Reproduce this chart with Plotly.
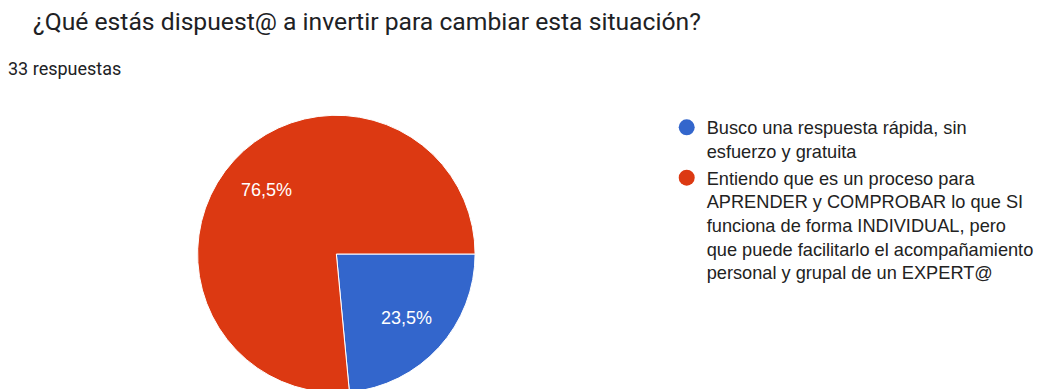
import math
import plotly.graph_objects as go

# Survey question and answer shares (percent of responses)
question = "¿Qué estás dispuest@ a invertir para cambiar esta situación?"
responses_label = "33 respuestas"
answers = [
    "Busco una respuesta rápida, sin<br>esfuerzo y gratuita",
    "Entiendo que es un proceso para<br>APRENDER y COMPROBAR lo que SI<br>"
    "funciona de forma INDIVIDUAL, pero<br>que puede facilitarlo el acompañamiento<br>"
    "personal y grupal de un EXPERT@",
]
shares = [23.5, 76.5]
colors = ["#3366CC", "#DC3912"]

W, H = 1039, 393


def px_x(x):
    return x / W


def px_y(y):
    return 1 - y / H


fig = go.Figure()

# Pie starts at 3 o'clock and runs clockwise
cx, cy, r = 337, 254, 139
start_deg = 90
fig.add_trace(go.Pie(
    labels=answers,
    values=shares,
    sort=False,
    direction="clockwise",
    rotation=start_deg,
    marker=dict(colors=colors, line=dict(color="white", width=1)),
    textinfo="none",
    domain=dict(x=[px_x(cx - r), px_x(cx + r)], y=[px_y(cy + r), px_y(cy - r)]),
    showlegend=False,
    hoverinfo="label+percent",
))

# Percentage labels placed along each slice's bisector
annotations = []
total = sum(shares)
acc = 0.0
for v in shares:
    mid = math.radians(start_deg + (acc + v / 2) / total * 360)
    lx = cx + 0.68 * r * math.sin(mid)
    ly = cy - 0.68 * r * math.cos(mid)
    acc += v
    annotations.append(dict(
        text=f"{v / total * 100:.1f}%".replace(".", ","),
        x=px_x(lx), y=px_y(ly), xref="paper", yref="paper",
        xanchor="center", yanchor="middle", showarrow=False,
        font=dict(family="Liberation Sans, Arial, sans-serif", size=18, color="white"),
    ))

# Circle markers for the legend
for name, col in zip(answers, colors):
    fig.add_trace(go.Scatter(
        x=[None], y=[None], mode="markers", name=name,
        marker=dict(symbol="circle", size=17, color=col),
        showlegend=True, hoverinfo="skip",
    ))

annotations += [
    dict(text=question, x=px_x(31), y=px_y(22), xref="paper", yref="paper",
         xanchor="left", yanchor="middle", showarrow=False,
         font=dict(family="Roboto, sans-serif", size=24.7, color="#202124")),
    dict(text=responses_label, x=px_x(6), y=px_y(68), xref="paper", yref="paper",
         xanchor="left", yanchor="middle", showarrow=False,
         font=dict(family="Roboto, sans-serif", size=18, color="#202124")),
]

fig.update_layout(
    width=W, height=H,
    margin=dict(l=0, r=0, t=0, b=0),
    paper_bgcolor="white", plot_bgcolor="white",
    xaxis=dict(visible=False), yaxis=dict(visible=False),
    legend=dict(
        x=px_x(668), y=px_y(109), xanchor="left", yanchor="top",
        valign="top",
        font=dict(family="Liberation Sans, Arial, sans-serif", size=18.2, color="#222222"),
        bgcolor="rgba(0,0,0,0)",
    ),
    annotations=annotations,
)

fig.write_html(
    "out.html",
    post_script="document.documentElement.style.overflow='hidden';"
                "document.body.style.overflow='hidden';document.body.style.margin='0';",
)
